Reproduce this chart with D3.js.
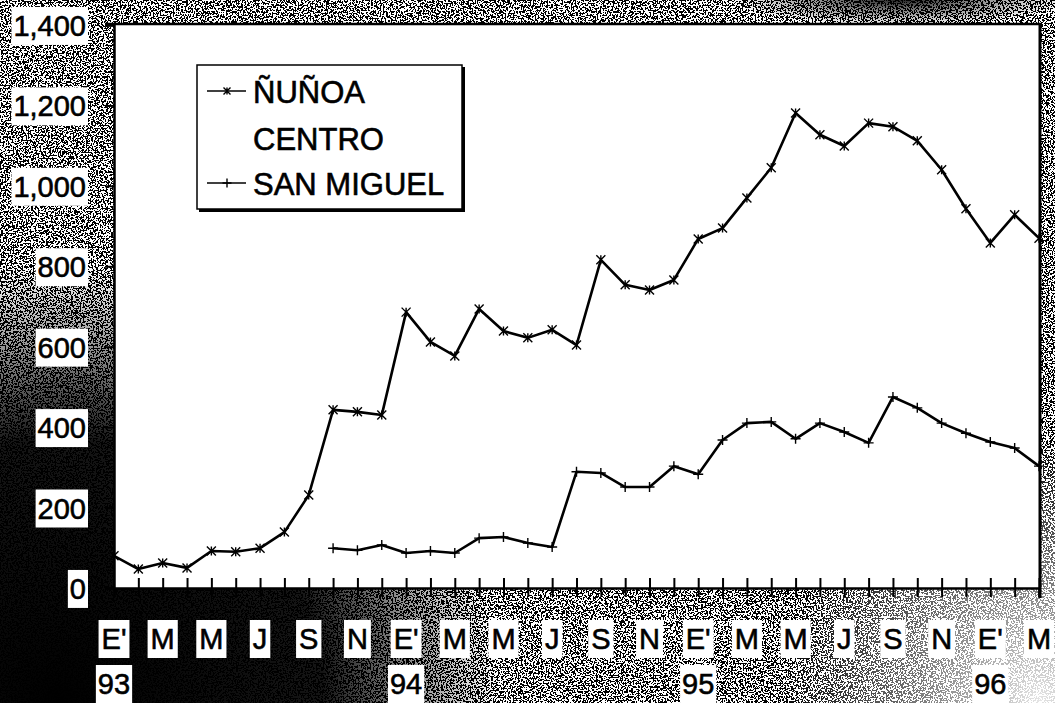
<!DOCTYPE html>
<html>
<head>
<meta charset="utf-8">
<script src="https://cdn.jsdelivr.net/npm/d3@7"></script>
<style>
  html, body { margin: 0; padding: 0; background: #888; }
  svg { display: block; }
  text { font-family: "Liberation Sans", Arial, sans-serif; fill: #000; stroke: #000; stroke-width: 0.6px; }
</style>
</head>
<body>
<div id="chart"></div>
<script>
// months Jan 93 .. Mar 96 (index 0..38)
const monthCount = 39;
const monthLabels = ["E'", "M", "M", "J", "S", "N", "E'", "M", "M", "J", "S", "N", "E'", "M", "M", "J", "S", "N", "E'", "M"];
const yearLabels = { 0: "93", 12: "94", 24: "95", 36: "96" };
const yTicks = [0, 200, 400, 600, 800, 1000, 1200, 1400];

const seriesNames = ["ÑUÑOA", "CENTRO", "SAN MIGUEL"];

const nunoa = [80, 47, 62, 50, 92, 90, 99, 139, 231, 443, 438, 430, 686, 612, 577, 694, 639, 622, 642, 604,
  816, 754, 741, 766, 868, 895, 970, 1045, 1181, 1127, 1099, 1156, 1147, 1112, 1040, 943, 858, 928, 870];
// centro: no visible data in the chart
const centro = [];
// san miguel starts in Oct 93 (index 9)
const sanMiguelStart = 9;
const sanMiguel = [99, 94, 107, 87, 92, 87, 124, 127, 112, 102, 289, 286, 251, 251, 303, 283, 368, 410, 413, 371,
  410, 388, 361, 475, 448, 410, 385, 363, 348, 303];

const width = 1055, height = 703;
const plotLeft = 114, plotRight = 1039, plotTop = 25, plotBottom = 588;

const svg = d3.select("#chart").append("svg")
    .attr("width", width)
    .attr("height", height);

const defs = svg.append("defs");

// scanned paper noise
const f = defs.append("filter").attr("id", "noise")
    .attr("filterUnits", "userSpaceOnUse")
    .attr("x", 0).attr("y", 0).attr("width", width).attr("height", height);
f.append("feTurbulence").attr("type", "fractalNoise").attr("baseFrequency", 0.6)
    .attr("numOctaves", 2).attr("seed", 5);
f.append("feColorMatrix").attr("type", "matrix")
    .attr("values", "1 0 0 0 0  1 0 0 0 0  1 0 0 0 0  0 0 0 0 1");
const ct = f.append("feComponentTransfer");
["R", "G", "B"].forEach(c => ct.append("feFunc" + c).attr("type", "discrete").attr("tableValues", "0 1"));

const darkBL = defs.append("radialGradient").attr("id", "darkBL")
    .attr("gradientUnits", "userSpaceOnUse").attr("cx", 60).attr("cy", 703).attr("r", 440);
darkBL.append("stop").attr("offset", "0%").attr("stop-color", "#000").attr("stop-opacity", 1);
darkBL.append("stop").attr("offset", "60%").attr("stop-color", "#000").attr("stop-opacity", 0.92);
darkBL.append("stop").attr("offset", "100%").attr("stop-color", "#000").attr("stop-opacity", 0);

const lightBR = defs.append("radialGradient").attr("id", "lightBR")
    .attr("gradientUnits", "userSpaceOnUse").attr("cx", 1040).attr("cy", 700).attr("r", 260);
lightBR.append("stop").attr("offset", "0%").attr("stop-color", "#fff").attr("stop-opacity", 0.9);
lightBR.append("stop").attr("offset", "100%").attr("stop-color", "#fff").attr("stop-opacity", 0);

const darkTR = defs.append("radialGradient").attr("id", "darkTR")
    .attr("gradientUnits", "userSpaceOnUse").attr("cx", 900).attr("cy", 0).attr("r", 170)
    .attr("gradientTransform", "translate(900,0) scale(1,0.15) translate(-900,0)");
darkTR.append("stop").attr("offset", "0%").attr("stop-color", "#000").attr("stop-opacity", 0.85);
darkTR.append("stop").attr("offset", "100%").attr("stop-color", "#000").attr("stop-opacity", 0);

svg.append("rect").attr("width", width).attr("height", height).attr("filter", "url(#noise)");
svg.append("rect").attr("width", width).attr("height", height).attr("fill", "url(#darkBL)");
svg.append("rect").attr("width", width).attr("height", height).attr("fill", "url(#lightBR)");
svg.append("rect").attr("width", width).attr("height", 40).attr("fill", "url(#darkTR)");

const x = d3.scaleLinear().domain([0, monthCount - 1]).range([plotLeft, plotRight]);
const y = d3.scaleLinear().domain([0, 1400]).range([plotBottom, plotTop]);

// plot area
svg.append("rect")
    .attr("x", plotLeft).attr("y", plotTop)
    .attr("width", plotRight - plotLeft).attr("height", plotBottom - plotTop)
    .attr("fill", "#fff");
svg.append("line").attr("x1", plotLeft - 9).attr("x2", plotRight + 2).attr("y1", plotTop - 1).attr("y2", plotTop - 1)
    .attr("stroke", "#000").attr("stroke-width", 2.5);
svg.append("line").attr("x1", plotRight + 1).attr("x2", plotRight + 1).attr("y1", plotTop - 2).attr("y2", plotBottom + 10)
    .attr("stroke", "#000").attr("stroke-width", 3);

// y axis
const yAxis = svg.append("g")
    .attr("transform", `translate(${plotLeft},0)`)
    .call(d3.axisLeft(y).tickValues(yTicks).tickSize(9).tickFormat(d3.format(",")));
yAxis.select(".domain").attr("stroke-width", 2.5);
yAxis.selectAll(".tick line").attr("stroke-width", 2);
yAxis.selectAll(".tick text")
    .attr("x", -28).attr("dy", "0.36em")
    .style("font-size", "29px").style("font-family", "'Liberation Sans', Arial, sans-serif");

// x axis
const xAxis = svg.append("g")
    .attr("transform", `translate(0,${plotBottom})`)
    .call(d3.axisBottom(x).tickValues(d3.range(1, monthCount)).tickSize(9).tickFormat(""));
xAxis.select(".domain").attr("stroke-width", 2.5);
xAxis.selectAll(".tick line").attr("y1", -10).attr("y2", 9).attr("stroke-width", 2);

// white boxes behind labels
function boxLabel(sel, padX, padY) {
  sel.each(function() {
    const b = this.getBBox();
    const t = this;
    d3.select(this.parentNode).insert("rect", () => t)
      .attr("transform", d3.select(t).attr("transform"))
      .attr("x", b.x - padX).attr("y", b.y - padY)
      .attr("width", b.width + 2 * padX).attr("height", b.height + 2 * padY)
      .attr("fill", "#fff");
  });
}
boxLabel(yAxis.selectAll(".tick text"), 2, 3);

const xl = svg.append("g").attr("class", "xlabels");
const mLab = xl.selectAll("text.m")
    .data(monthLabels)
    .join("text")
    .attr("class", "m")
    .attr("x", (d, i) => x(i * 2))
    .attr("y", 649)
    .attr("text-anchor", "middle")
    .style("font-size", "29px")
    .text(d => d);
boxLabel(mLab, 3, 3);

const yLab = xl.selectAll("text.yr")
    .data(Object.entries(yearLabels))
    .join("text")
    .attr("class", "yr")
    .attr("x", d => x(+d[0]))
    .attr("y", 694)
    .attr("text-anchor", "middle")
    .style("font-size", "29px")
    .text(d => d[1]);
boxLabel(yLab, 2, 3);

// lines
const nunoaPts = nunoa.map((v, i) => [i, v]);
const smPts = sanMiguel.map((v, i) => [i + sanMiguelStart, v]);

const line = d3.line().x(d => x(d[0])).y(d => y(d[1]));

svg.append("path").datum(nunoaPts)
    .attr("d", line).attr("fill", "none").attr("stroke", "#000")
    .attr("stroke-width", 2.6).attr("stroke-linejoin", "round");
svg.append("path").datum(smPts)
    .attr("d", line).attr("fill", "none").attr("stroke", "#000")
    .attr("stroke-width", 2.6).attr("stroke-linejoin", "round");

function starMark(g, cx, cy, s) {
  g.append("path")
    .attr("d", `M${cx - s},${cy - s}L${cx + s},${cy + s}M${cx - s},${cy + s}L${cx + s},${cy - s}M${cx},${cy - s}L${cx},${cy + s}`)
    .attr("stroke", "#000").attr("stroke-width", 1.4).attr("fill", "none");
}
function plusMark(g, cx, cy, s) {
  g.append("path")
    .attr("d", `M${cx},${cy - s}L${cx},${cy + s}M${cx - s},${cy}L${cx + s},${cy}`)
    .attr("stroke", "#000").attr("stroke-width", 1.4).attr("fill", "none");
}
const marks = svg.append("g");
nunoaPts.forEach(d => starMark(marks, x(d[0]), y(d[1]), 4.5));
smPts.forEach(d => plusMark(marks, x(d[0]), y(d[1]), 5));

// legend
const lg = svg.append("g").attr("class", "legend");
lg.append("rect").attr("x", 199).attr("y", 67).attr("width", 266).attr("height", 145).attr("fill", "#000");
lg.append("rect").attr("x", 197).attr("y", 65).attr("width", 265).attr("height", 144)
    .attr("fill", "#fff").attr("stroke", "#000").attr("stroke-width", 1.5);

const legendRows = [
  { name: seriesNames[0], mark: "star", y: 103 },
  { name: seriesNames[1], mark: null, y: 150 },
  { name: seriesNames[2], mark: "plus", y: 195 }
];
legendRows.forEach(r => {
  lg.append("text").attr("x", 253).attr("y", r.y)
    .style("font-size", "31px").text(r.name);
  if (r.mark) {
    const ly = r.y - 12;
    lg.append("line").attr("x1", 207).attr("x2", 246).attr("y1", ly).attr("y2", ly)
      .attr("stroke", "#000").attr("stroke-width", 1.5);
    if (r.mark === "star") starMark(lg, 227, ly, 3.5);
    else plusMark(lg, 227, ly, 4.5);
  }
});
</script>
</body>
</html>
